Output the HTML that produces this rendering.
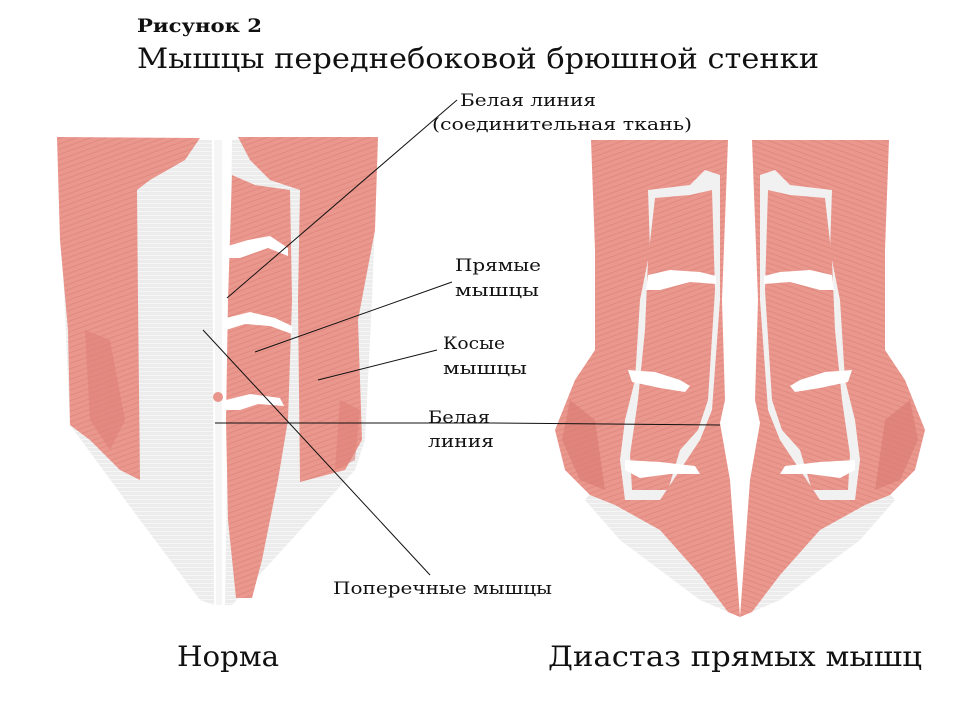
<!DOCTYPE html>
<html><head><meta charset="utf-8"><style>
html,body{margin:0;padding:0;background:#fff;width:958px;height:709px;overflow:hidden}
svg{display:block}
text{font-family:"DejaVu Serif","Liberation Serif",serif;fill:#111}
</style></head><body>
<svg width="958" height="709" viewBox="0 0 958 709" xmlns="http://www.w3.org/2000/svg">
<defs>
<pattern id="g" width="6" height="4" patternUnits="userSpaceOnUse"><rect width="6" height="4" fill="#ececec"/><rect y="3" width="6" height="1" fill="#f6f6f6"/></pattern>
<pattern id="m" width="5" height="5" patternUnits="userSpaceOnUse" patternTransform="rotate(70)"><rect width="5" height="5" fill="#ea978d"/><rect width="1" height="5" fill="#e08980"/></pattern>
</defs>
<text x="137" y="32" font-size="19" font-weight="bold" textLength="125" lengthAdjust="spacingAndGlyphs">Рисунок 2</text>
<text x="137" y="68" font-size="28" textLength="682" lengthAdjust="spacingAndGlyphs">Мышцы переднебоковой брюшной стенки</text>

<!-- LEFT TORSO (norma) -->
<path d="M57,137 L212,140 L214,605 L200,600 L140,520 L70,425 Z" fill="url(#g)"/>
<path d="M232,140 L378,137 L372,300 L365,440 L355,470 L232,605 L225,605 Z" fill="url(#g)"/>
<path d="M57,137 L200,138 L185,160 L150,180 L137,190 L138,300 L140,480 L120,470 L90,440 L70,425 L68,330 L60,240 Z" fill="url(#m)"/>
<path d="M85,330 L110,340 L125,420 L110,450 L90,420 Z" fill="#dd8078" opacity=".6"/>
<path d="M238,137 L378,137 L375,230 L358,320 L362,440 L345,470 L300,482 L298,300 L300,190 L270,180 L250,160 Z" fill="url(#m)"/>
<path d="M340,400 L360,410 L355,460 L335,470 Z" fill="#dd8078" opacity=".6"/>
<path d="M232,175 L255,185 L290,190 L292,300 L288,420 L278,480 L262,560 L252,598 L236,598 L228,520 L226,420 L228,300 Z" fill="url(#m)"/>
<path d="M228,246 L248,240 L270,236 L288,248 L288,256 L268,248 L240,258 L228,258 Z" fill="#fff"/>
<path d="M226,318 L250,312 L275,318 L292,326 L292,334 L270,326 L245,324 L226,330 Z" fill="#fff"/>
<path d="M226,400 L250,394 L280,398 L284,406 L258,404 L240,410 L226,410 Z" fill="#fff"/>
<path d="M214,140 L222,140 L222,605 L216,605 Z" fill="#f5f5f5"/>
<circle cx="218" cy="397" r="5" fill="#e8958b"/>

<!-- RIGHT TORSO (diastasis) -->
<g id="half">
<path d="M600,480 L720,440 L740,617 L700,600 L620,540 L585,500 Z" fill="url(#g)"/>
<path d="M591,140 L728,140 L722,300 L725,400 L720,423 L730,480 L740,617 L728,612 L700,575 L660,530 L615,505 L590,495 L565,470 L555,430 L575,380 L595,350 L595,250 Z" fill="url(#m)"/>
<path d="M570,400 L595,420 L605,490 L580,480 L562,440 Z" fill="#d97a72" opacity=".6"/>
<path d="M648,190 L690,185 L705,170 L720,175 L720,300 L712,410 L700,440 L680,470 L660,500 L625,500 L620,460 L625,420 L635,380 L640,300 L650,250 Z" fill="#f1f1f1"/>
<path d="M655,198 L690,195 L712,190 L715,290 L708,400 L698,430 L680,450 L668,490 L632,490 L630,455 L638,400 L645,330 L648,260 Z" fill="url(#m)"/>
<path d="M648,275 L670,270 L700,272 L716,276 L716,284 L690,282 L660,290 L646,290 Z" fill="#fff"/>
<path d="M628,370 L655,372 L680,380 L690,386 L685,392 L660,388 L632,382 Z" fill="#fff"/>
<path d="M625,460 L660,462 L695,466 L700,474 L670,474 L640,478 L625,470 Z" fill="#fff"/>
</g>
<use href="#half" transform="translate(1480,0) scale(-1,1)"/>

<g stroke="#111" stroke-width="1" fill="none">
<line x1="457" y1="100" x2="227" y2="298"/>
<line x1="452" y1="282" x2="255" y2="352"/>
<line x1="437" y1="350" x2="318" y2="380"/>
<line x1="215" y1="423" x2="492" y2="423"/>
<line x1="492" y1="423" x2="720" y2="425"/>
<line x1="203" y1="330" x2="430" y2="575"/>
</g>
<g font-size="17" lengthAdjust="spacingAndGlyphs">
<text x="460" y="106" textLength="136" lengthAdjust="spacingAndGlyphs">Белая линия</text>
<text x="432" y="130" textLength="260" lengthAdjust="spacingAndGlyphs">(соединительная ткань)</text>
<text x="455" y="271" textLength="86" lengthAdjust="spacingAndGlyphs">Прямые</text>
<text x="455" y="296" textLength="84" lengthAdjust="spacingAndGlyphs">мышцы</text>
<text x="443" y="349" textLength="62" lengthAdjust="spacingAndGlyphs">Косые</text>
<text x="443" y="374" textLength="84" lengthAdjust="spacingAndGlyphs">мышцы</text>
<text x="428" y="423" textLength="62" lengthAdjust="spacingAndGlyphs">Белая</text>
<text x="428" y="447" textLength="66" lengthAdjust="spacingAndGlyphs">линия</text>
<text x="333" y="594" textLength="219" lengthAdjust="spacingAndGlyphs">Поперечные мышцы</text>
</g>
<text x="177" y="666" font-size="28" textLength="102" lengthAdjust="spacingAndGlyphs">Норма</text>
<text x="548" y="666" font-size="28" textLength="374" lengthAdjust="spacingAndGlyphs">Диастаз прямых мышц</text>
</svg>
</body></html>
